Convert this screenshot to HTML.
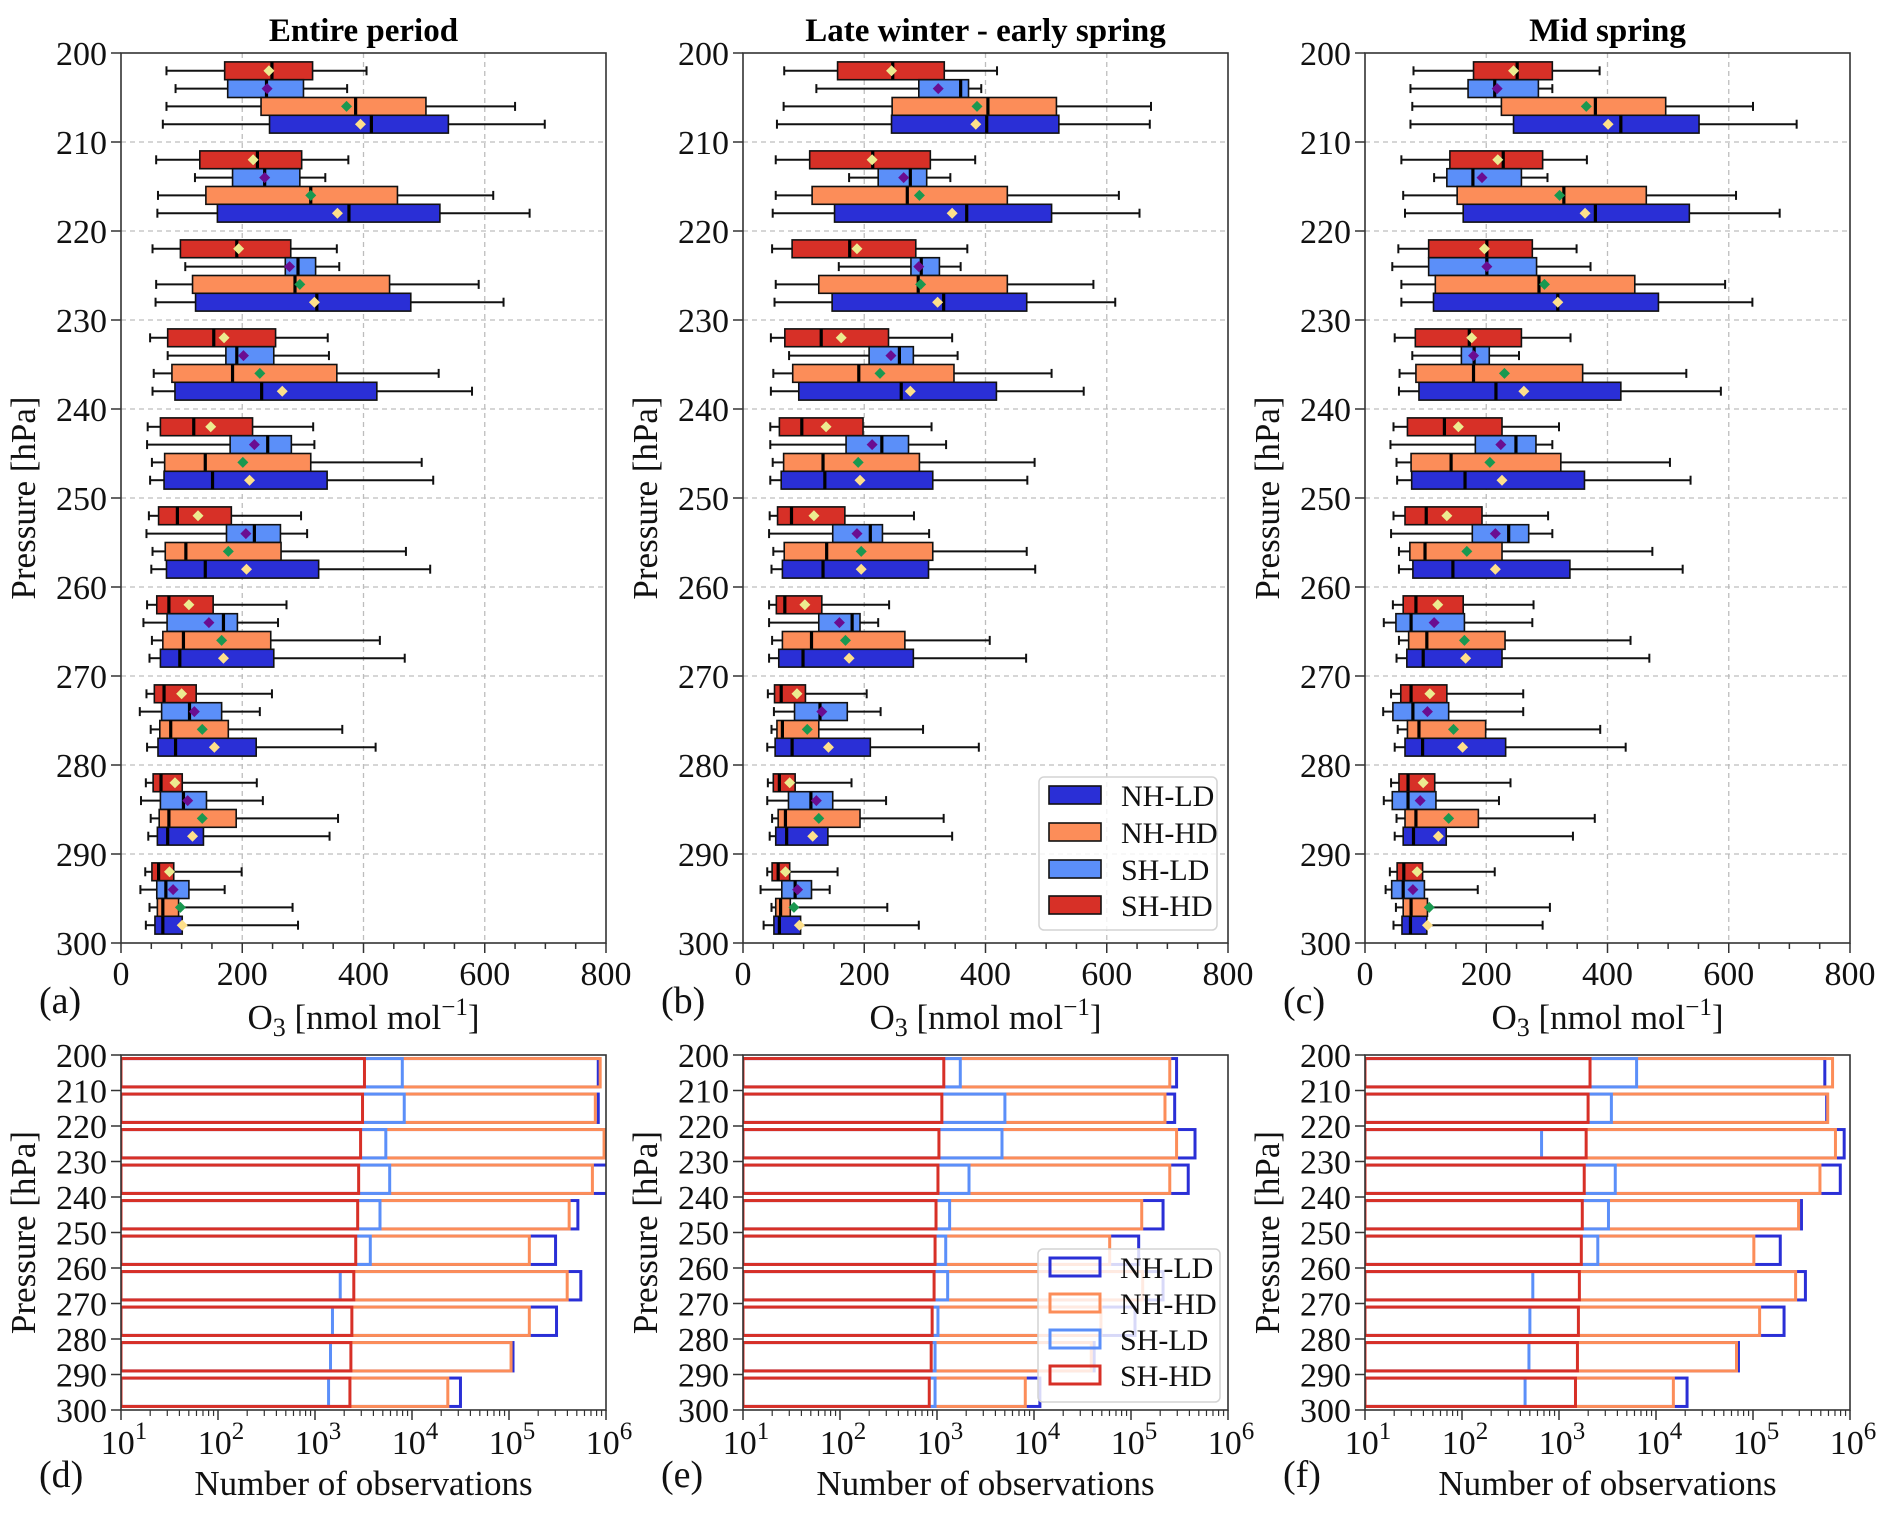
<!DOCTYPE html>
<html><head><meta charset="utf-8">
<style>
html,body{margin:0;padding:0;background:#fff;}
svg{display:block;font-family:"Liberation Serif","DejaVu Serif",serif;}
</style></head>
<body>
<svg id="fig" xmlns="http://www.w3.org/2000/svg" width="1892" height="1513" viewBox="0 0 1892 1513"></svg>
<script>
// ---------- data: pressure levels ----------
const levels = [200,210,220,230,240,250,260,270,280,290];
const seriesNames = ["SH-HD","SH-LD","NH-HD","NH-LD"];
const xTicksTop = [0,200,400,600,800];
const yTicks = [200,210,220,230,240,250,260,270,280,290,300];
const panelTitles = ["Entire period","Late winter - early spring","Mid spring"];
const panelTagsTop = ["(a)","(b)","(c)"];
const panelTagsBot = ["(d)","(e)","(f)"];

// ---------- panel a: box statistics (nmol/mol) ----------
const a_shhd_lo=[75,58,52,48,44,46,43,42,41,40];
const a_shhd_q1=[171,130,98,77,65,62,59,55,53,51];
const a_shhd_med=[249,225,191,153,120,93,79,71,66,62];
const a_shhd_q3=[316,298,280,255,217,182,152,124,101,87];
const a_shhd_hi=[405,375,356,341,317,297,273,249,224,199];
const a_shhd_mean=[244,218,194,170,148,127,112,100,89,80];
const a_shld_lo=[90,122,106,77,43,42,37,31,33,32];
const a_shld_q1=[176,184,271,173,180,174,76,67,65,59];
const a_shld_med=[240,237,292,191,242,220,169,113,103,74];
const a_shld_q3=[301,295,321,252,281,263,192,166,141,112];
const a_shld_hi=[373,337,360,343,319,307,259,229,234,171];
const a_shld_mean=[241,237,278,202,220,206,145,121,110,86];
const a_nhhd_lo=[75,61,58,54,51,52,51,49,49,47];
const a_nhhd_q1=[231,140,118,84,72,73,69,64,63,60];
const a_nhhd_med=[387,313,287,184,139,107,103,82,79,69];
const a_nhhd_q3=[503,456,443,356,313,264,247,177,190,95];
const a_nhhd_hi=[650,614,590,524,496,470,427,365,358,283];
const a_nhhd_mean=[372,313,295,229,201,177,166,134,134,98];
const a_nhld_lo=[69,60,57,52,48,50,47,43,45,41];
const a_nhld_q1=[245,159,123,89,71,75,65,61,60,56];
const a_nhld_med=[413,376,323,232,151,139,97,90,77,69];
const a_nhld_q3=[540,526,478,422,340,326,252,223,136,101];
const a_nhld_hi=[699,674,631,579,515,510,468,420,344,292];
const a_nhld_mean=[395,357,319,266,212,207,169,154,118,101];

// ---------- panel b ----------
const b_shhd_lo=[68,54,48,46,45,44,43,41,41,40];
const b_shhd_q1=[156,110,81,69,60,57,55,52,50,48];
const b_shhd_med=[247,214,176,129,97,80,69,63,60,58];
const b_shhd_q3=[332,309,285,240,198,168,130,103,86,77];
const b_shhd_hi=[419,383,370,345,311,282,241,204,179,156];
const b_shhd_mean=[245,213,188,162,137,117,102,89,77,70];
const b_shld_lo=[121,175,158,76,45,43,43,51,40,29];
const b_shld_q1=[290,223,277,208,170,148,125,85,75,64];
const b_shld_med=[359,276,294,258,229,210,180,127,112,86];
const b_shld_q3=[372,303,324,281,273,230,193,172,148,113];
const b_shld_hi=[393,342,359,354,335,307,223,227,236,143];
const b_shld_mean=[322,265,290,244,213,188,159,130,121,90];
const b_nhhd_lo=[67,54,54,50,49,50,48,47,48,47];
const b_nhhd_q1=[246,114,125,82,67,68,65,56,58,54];
const b_nhhd_med=[404,271,289,191,132,138,113,65,70,62];
const b_nhhd_q3=[517,436,436,348,291,313,267,125,193,78];
const b_nhhd_hi=[673,620,578,509,481,468,407,297,331,238];
const b_nhhd_mean=[386,291,293,226,190,195,169,106,125,84];
const b_nhld_lo=[56,49,52,46,45,47,43,40,44,34];
const b_nhld_q1=[245,151,147,92,63,65,59,53,54,51];
const b_nhld_med=[402,369,331,261,135,132,99,81,72,60];
const b_nhld_q3=[521,509,468,418,313,306,281,210,140,95];
const b_nhld_hi=[671,654,614,562,469,482,467,389,345,290];
const b_nhld_mean=[384,345,321,276,193,195,175,141,115,93];

// ---------- panel c ----------
const c_shhd_lo=[80,60,55,49,47,47,46,43,43,41];
const c_shhd_q1=[179,140,105,83,70,66,63,59,56,53];
const c_shhd_med=[251,228,201,172,131,101,84,76,71,64];
const c_shhd_q3=[309,293,276,258,226,193,162,135,115,95];
const c_shhd_hi=[387,366,349,339,320,302,278,261,240,214];
const c_shhd_mean=[245,219,197,176,154,135,120,107,96,86];
const c_shld_lo=[75,114,45,78,42,43,31,30,31,34];
const c_shld_q1=[170,135,105,159,182,177,51,46,45,44];
const c_shld_med=[214,178,201,180,249,237,76,79,71,63];
const c_shld_q3=[286,258,283,205,282,270,164,138,117,98];
const c_shld_hi=[309,301,372,254,309,309,276,261,221,186];
const c_shld_mean=[218,193,201,179,224,215,114,103,91,79];
const c_nhhd_lo=[78,63,60,57,52,56,56,54,52,51];
const c_nhhd_q1=[225,152,116,84,76,74,72,70,66,63];
const c_nhhd_med=[380,328,287,179,142,99,102,89,84,76];
const c_nhhd_q3=[496,464,445,359,323,226,231,199,187,103];
const c_nhhd_hi=[640,612,594,530,503,474,438,388,379,305];
const c_nhhd_mean=[365,321,296,230,206,168,164,146,138,106];
const c_nhld_lo=[75,66,60,56,53,56,52,49,49,47];
const c_nhld_q1=[245,162,113,89,77,79,69,66,63,61];
const c_nhld_med=[422,380,318,216,165,145,96,95,80,75];
const c_nhld_q3=[551,535,484,422,362,338,226,232,134,102];
const c_nhld_hi=[712,684,639,587,537,524,469,430,343,293];
const c_nhld_mean=[401,363,318,262,226,215,166,161,121,103];

// ---------- observation counts ----------
const d_shhd_n=[3236,3090,2951,2818,2754,2630,2512,2399,2344,2291];
const d_shld_n=[7943,8318,5370,5888,4677,3715,1820,1514,1445,1380];
const d_nhhd_n=[871000,776000,955000,724000,417000,162000,398000,162000,105000,23400];
const d_nhld_n=[832000,832000,977000,1120000,513000,302000,550000,309000,110000,31600];
const e_shhd_n=[1175,1122,1047,1023,977,955,933,891,871,832];
const e_shld_n=[1738,5012,4677,2138,1349,1230,1288,1023,955,955];
const e_nhhd_n=[251000,224000,295000,251000,129000,60300,132000,49000,38900,8130];
const e_nhld_n=[295000,282000,457000,389000,214000,120000,214000,110000,41700,11500];
const f_shhd_n=[2089,1995,1905,1820,1738,1698,1622,1585,1549,1479];
const f_shld_n=[6310,3467,661,3802,3236,2512,537,501,490,447];
const f_nhhd_n=[661000,589000,708000,490000,295000,102000,275000,117000,67600,15100];
const f_nhld_n=[550000,575000,871000,794000,316000,191000,347000,209000,70800,20900];

// ---------- grouping (references only) ----------
const boxPanels = [
 [[a_shhd_lo,a_shhd_q1,a_shhd_med,a_shhd_q3,a_shhd_hi,a_shhd_mean],[a_shld_lo,a_shld_q1,a_shld_med,a_shld_q3,a_shld_hi,a_shld_mean],[a_nhhd_lo,a_nhhd_q1,a_nhhd_med,a_nhhd_q3,a_nhhd_hi,a_nhhd_mean],[a_nhld_lo,a_nhld_q1,a_nhld_med,a_nhld_q3,a_nhld_hi,a_nhld_mean]],
 [[b_shhd_lo,b_shhd_q1,b_shhd_med,b_shhd_q3,b_shhd_hi,b_shhd_mean],[b_shld_lo,b_shld_q1,b_shld_med,b_shld_q3,b_shld_hi,b_shld_mean],[b_nhhd_lo,b_nhhd_q1,b_nhhd_med,b_nhhd_q3,b_nhhd_hi,b_nhhd_mean],[b_nhld_lo,b_nhld_q1,b_nhld_med,b_nhld_q3,b_nhld_hi,b_nhld_mean]],
 [[c_shhd_lo,c_shhd_q1,c_shhd_med,c_shhd_q3,c_shhd_hi,c_shhd_mean],[c_shld_lo,c_shld_q1,c_shld_med,c_shld_q3,c_shld_hi,c_shld_mean],[c_nhhd_lo,c_nhhd_q1,c_nhhd_med,c_nhhd_q3,c_nhhd_hi,c_nhhd_mean],[c_nhld_lo,c_nhld_q1,c_nhld_med,c_nhld_q3,c_nhld_hi,c_nhld_mean]]
];
const countPanels = [
 [d_shhd_n,d_shld_n,d_nhhd_n,d_nhld_n],
 [e_shhd_n,e_shld_n,e_nhhd_n,e_nhld_n],
 [f_shhd_n,f_shld_n,f_nhhd_n,f_nhld_n]
];

// ---------- styling ----------
const fillCol = ["#d73027","#5b8ff9","#fc8d59","#2a2fd6"];
const meanCol = ["#ecec90","#6a0d91","#1a9850","#fee08b"];
const seriesKey = ["sh-hd","sh-ld","nh-hd","nh-ld"];
const panelLeft = [121,743,1365];
const PW = 485;
const TOP_Y0 = 53, TOP_Y1 = 943;
const BOT_Y0 = 1055, BOT_Y1 = 1410;
const TICK_FS = 34, LABEL_FS = 35;

const NS = "http://www.w3.org/2000/svg";
const svg = document.getElementById("fig");
function mk(tag, attrs, parent){
  const e = document.createElementNS(NS, tag);
  for (const k in attrs) e.setAttribute(k, attrs[k]);
  (parent||svg).appendChild(e);
  return e;
}
function txt(s, attrs, parent){
  const e = mk("text", attrs, parent);
  e.textContent = s;
  return e;
}

const defs = mk("defs", {});
for (let p=0;p<3;p++){
  const cp = mk("clipPath", {id:"clipb"+p}, defs);
  mk("rect", {x:panelLeft[p], y:BOT_Y0, width:PW, height:BOT_Y1-BOT_Y0}, cp);
}

for (let p=0;p<3;p++){
  const L = panelLeft[p];
  const xS = v => L + v/800*PW;
  const yS = pr => TOP_Y0 + (pr-200)/100*(TOP_Y1-TOP_Y0);
  const xLog = n => L + (Math.log10(n)-1)/5*PW;
  const yB = pr => BOT_Y0 + (pr-200)/100*(BOT_Y1-BOT_Y0);

  // ===== top panel =====
  const gTop = mk("g", {});
  
  

  const title = txt(panelTitles[p], {x:L+PW/2, y:41, "text-anchor":"middle", "font-size":"33", "font-weight":"bold", fill:"#000"}, gTop);
  
  

  const grid = mk("g", {stroke:"#bdbdbd", "stroke-width":"1.3", "stroke-dasharray":"5,4"}, gTop);
  
  
  for (const v of xTicksTop){ if (v>0 && v<800) mk("line",{x1:xS(v),x2:xS(v),y1:TOP_Y0,y2:TOP_Y1},grid); }
  for (const v of yTicks){ if (v>200 && v<300) mk("line",{x1:L,x2:L+PW,y1:yS(v),y2:yS(v)},grid); }

  for (let s=0;s<4;s++){
    const st = boxPanels[p][s];
    const gs = mk("g", {}, gTop);
    
    
    for (let i=0;i<levels.length;i++){
      const yc = yS(levels[i] + 2*(s+1));
      const h = yS(levels[i]+1) - yS(levels[i]);
      const lo=st[0][i], q1=st[1][i], md=st[2][i], q3=st[3][i], hi=st[4][i], mn=st[5][i];
      const g = mk("g", {}, gs);
      
      
      mk("line",{x1:xS(lo),x2:xS(q1),y1:yc,y2:yc,stroke:"#111","stroke-width":"2"},g);
      mk("line",{x1:xS(q3),x2:xS(hi),y1:yc,y2:yc,stroke:"#111","stroke-width":"2"},g);
      mk("line",{x1:xS(lo),x2:xS(lo),y1:yc-4.5,y2:yc+4.5,stroke:"#111","stroke-width":"2"},g);
      mk("line",{x1:xS(hi),x2:xS(hi),y1:yc-4.5,y2:yc+4.5,stroke:"#111","stroke-width":"2"},g);
      mk("rect",{x:xS(q1),y:yc-h,width:xS(q3)-xS(q1),height:2*h,fill:fillCol[s],stroke:"#111","stroke-width":"1.6"},g);
      mk("line",{x1:xS(md),x2:xS(md),y1:yc-h,y2:yc+h,stroke:"#000","stroke-width":"3.2"},g);
      const mx = xS(mn), r=5.5;
      mk("polygon",{points:`${mx},${yc-r} ${mx+r},${yc} ${mx},${yc+r} ${mx-r},${yc}`,fill:meanCol[s]},g);
    }
  }

  const frame = mk("rect",{x:L,y:TOP_Y0,width:PW,height:TOP_Y1-TOP_Y0,fill:"none",stroke:"#333","stroke-width":"1.6"},gTop);
  
  

  const gx = mk("g", {}, gTop);
  
  
  for (let v=0; v<=800; v+=50){
    const major = v%200===0;
    mk("line",{x1:xS(v),x2:xS(v),y1:TOP_Y1,y2:TOP_Y1+(major?10:6),stroke:"#333","stroke-width":"1.5"},gx);
  }
  for (const v of xTicksTop){
    txt(String(v),{x:xS(v),y:985,"text-anchor":"middle","font-size":TICK_FS,fill:"#111"},gx);
  }
  const xl = txt("",{x:L+PW/2,y:1029,"text-anchor":"middle","font-size":LABEL_FS,fill:"#111"},gTop);
  xl.innerHTML = 'O<tspan font-size="26" dy="7">3</tspan><tspan dy="-7"> [nmol mol</tspan><tspan font-size="25" dy="-14">−1</tspan><tspan dy="14">]</tspan>';
  
  

  const gy = mk("g", {}, gTop);
  
  
  for (const v of yTicks){
    mk("line",{x1:L-10,x2:L,y1:yS(v),y2:yS(v),stroke:"#333","stroke-width":"1.5"},gy);
    txt(String(v),{x:L-14,y:yS(v)+12,"text-anchor":"end","font-size":TICK_FS,fill:"#111"},gy);
  }
  const yl = txt("Pressure [hPa]",{x:0,y:0,transform:`translate(${L-86},${(TOP_Y0+TOP_Y1)/2}) rotate(-90)`,"text-anchor":"middle","font-size":LABEL_FS,fill:"#111"},gTop);
  
  

  const tag = txt(panelTagsTop[p],{x:L-82,y:1013,"font-size":"38",fill:"#111"},gTop);
  
  

  // ===== bottom panel =====
  const gBot = mk("g", {});
  
  
  const gBars = mk("g", {"clip-path":`url(#clipb${p})`}, gBot);
  
  
  for (const s of [3,2,1,0]){
    const arr = countPanels[p][s];
    const gs = mk("g", {}, gBars);
    
    
    for (let i=0;i<levels.length;i++){
      const y0 = yB(levels[i]+1), y1 = yB(levels[i]+9);
      const r = mk("rect",{x:L,y:y0,width:Math.max(0,xLog(arr[i])-L),height:y1-y0,fill:"none",stroke:fillCol[s],"stroke-width":"3"},gs);
      
      
    }
  }
  const frameB = mk("rect",{x:L,y:BOT_Y0,width:PW,height:BOT_Y1-BOT_Y0,fill:"none",stroke:"#333","stroke-width":"1.6"},gBot);
  
  

  const gxb = mk("g", {}, gBot);
  
  
  for (let d=1; d<=6; d++){
    mk("line",{x1:xLog(Math.pow(10,d)),x2:xLog(Math.pow(10,d)),y1:BOT_Y1,y2:BOT_Y1+10,stroke:"#333","stroke-width":"1.5"},gxb);
    const t = txt("",{x:xLog(Math.pow(10,d))+3,y:1454,"text-anchor":"middle","font-size":TICK_FS,fill:"#111"},gxb);
    t.innerHTML = '10<tspan font-size="25" dy="-15">'+d+'</tspan>';
    if (d<6) for (let m=2;m<=9;m++){
      const xv = xLog(m*Math.pow(10,d));
      mk("line",{x1:xv,x2:xv,y1:BOT_Y1,y2:BOT_Y1+6,stroke:"#333","stroke-width":"1.2"},gxb);
    }
  }
  const xlb = txt("Number of observations",{x:L+PW/2,y:1495,"text-anchor":"middle","font-size":LABEL_FS,fill:"#111"},gBot);
  
  

  const gyb = mk("g", {}, gBot);
  
  
  for (const v of yTicks){
    mk("line",{x1:L-10,x2:L,y1:yB(v),y2:yB(v),stroke:"#333","stroke-width":"1.5"},gyb);
    txt(String(v),{x:L-14,y:yB(v)+12,"text-anchor":"end","font-size":TICK_FS,fill:"#111"},gyb);
  }
  const ylb = txt("Pressure [hPa]",{x:0,y:0,transform:`translate(${L-86},${(BOT_Y0+BOT_Y1)/2}) rotate(-90)`,"text-anchor":"middle","font-size":LABEL_FS,fill:"#111"},gBot);
  
  
  const tagb = txt(panelTagsBot[p],{x:L-82,y:1487,"font-size":"38",fill:"#111"},gBot);
  
  
}

// ===== legends =====
const legOrder = [3,2,1,0];
function legend(x, y, w, h, rows, filled, name){
  const g = mk("g", {});
  
  
  mk("rect",{x:x,y:y,width:w,height:h,rx:5,fill:"#fff","fill-opacity":"0.82",stroke:"#d4d4d4","stroke-width":"1.5"},g);
  for (let k=0;k<4;k++){
    const s = legOrder[k];
    const cy = rows[k];
    const e = mk("g", {}, g);
    
    
    if (filled) mk("rect",{x:x+10,y:cy-9,width:52,height:18,fill:fillCol[s],stroke:"#111","stroke-width":"1.6"},e);
    else mk("rect",{x:x+12,y:cy-9,width:50,height:18,fill:"none",stroke:fillCol[s],"stroke-width":"3"},e);
    txt(seriesNames[s],{x:x+82,y:cy+11,"font-size":"30",fill:"#111"},e);
  }
}
legend(1039,777,178,153,[795,832,869,905],true,'legend-boxplot');
legend(1038,1249,182,153,[1267,1303,1339,1375],false,'legend-counts');
</script>
</body></html>
